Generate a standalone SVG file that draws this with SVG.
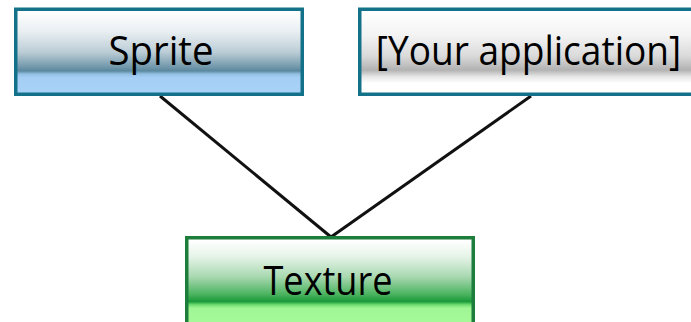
<svg xmlns="http://www.w3.org/2000/svg" width="691" height="322" viewBox="0 0 691 322">
  <defs>
    <linearGradient id="gSprite" gradientUnits="userSpaceOnUse" x1="0" y1="11" x2="0" y2="93">
      <stop offset="0" stop-color="#ffffff"/>
      <stop offset="0.25" stop-color="#e9eff2"/>
      <stop offset="0.5" stop-color="#bccdd6"/>
      <stop offset="0.68" stop-color="#7399ac"/>
      <stop offset="0.73" stop-color="#5a889e"/>
      <stop offset="0.77" stop-color="#94c0e4"/>
      <stop offset="0.81" stop-color="#a4cef4"/>
      <stop offset="1" stop-color="#a8d2f6"/>
    </linearGradient>
    <linearGradient id="gApp" gradientUnits="userSpaceOnUse" x1="0" y1="11" x2="0" y2="93">
      <stop offset="0" stop-color="#ffffff"/>
      <stop offset="0.3" stop-color="#f3f3f3"/>
      <stop offset="0.55" stop-color="#dadada"/>
      <stop offset="0.72" stop-color="#b2b2b2"/>
      <stop offset="0.8" stop-color="#e6e6e6"/>
      <stop offset="0.88" stop-color="#ffffff"/>
      <stop offset="1" stop-color="#ffffff"/>
    </linearGradient>
    <linearGradient id="gTexture" gradientUnits="userSpaceOnUse" x1="0" y1="240" x2="0" y2="322">
      <stop offset="0" stop-color="#ffffff"/>
      <stop offset="0.2" stop-color="#e6f4e8"/>
      <stop offset="0.45" stop-color="#a8d8b0"/>
      <stop offset="0.66" stop-color="#4cb460"/>
      <stop offset="0.75" stop-color="#1a9a3a"/>
      <stop offset="0.79" stop-color="#6edc70"/>
      <stop offset="0.83" stop-color="#a0f694"/>
      <stop offset="1" stop-color="#a4f898"/>
    </linearGradient>
    <style>
      .blue { stroke: #13728a; stroke-width: 3.5; }
      .green { stroke: #1d7d3b; stroke-width: 3.5; }
      .label { font-family: "Open Sans", "Noto Sans", "DejaVu Sans", sans-serif; font-size: 40px; fill: #000000; text-anchor: middle; }
      .link { stroke: #111111; stroke-width: 3; fill: none; }
    </style>
  </defs>

  <g id="connectors">
    <line class="link" x1="160" y1="96" x2="331" y2="237"/>
    <line class="link" x1="531" y1="96" x2="331" y2="237"/>
  </g>

  <g id="sprite">
    <rect class="blue" x="15.75" y="9.25" width="286.5" height="85" fill="url(#gSprite)"/>
    <text class="label" x="161" y="65" textLength="105" lengthAdjust="spacingAndGlyphs">Sprite</text>
  </g>

  <g id="application">
    <rect class="blue" x="359.75" y="9.25" width="345" height="85" fill="url(#gApp)"/>
    <!-- narrowed horizontally so the long label fits inside the canvas -->
    <text class="label" transform="translate(528.5 65) scale(0.927 1)" x="0" y="0">[Your application]</text>
  </g>

  <g id="texture">
    <rect class="green" x="186.75" y="237.75" width="286.5" height="90" fill="url(#gTexture)"/>
    <text class="label" x="328" y="294.5" textLength="129" lengthAdjust="spacingAndGlyphs">Texture</text>
  </g>
</svg>
